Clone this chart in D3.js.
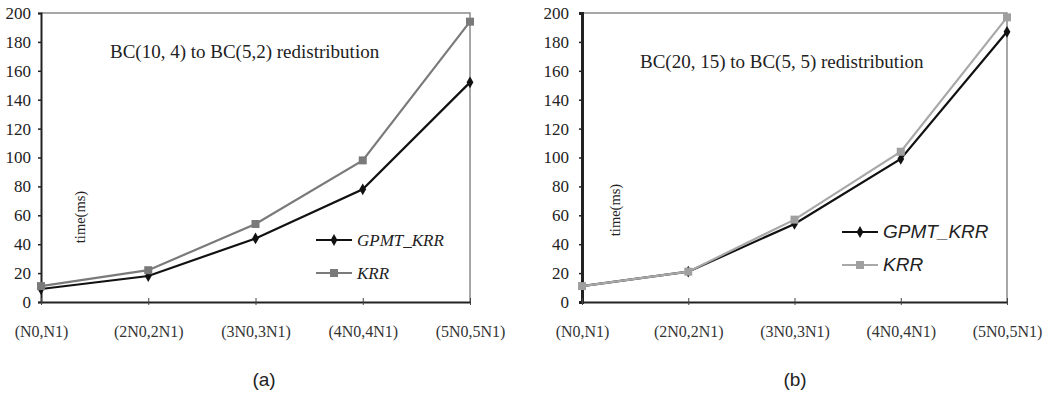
<!DOCTYPE html>
<html>
<head>
<meta charset="utf-8">
<script src="https://cdn.jsdelivr.net/npm/d3@7"></script>
<style>
  html, body { margin: 0; padding: 0; background: #fff; }
  svg { display: block; }
</style>
</head>
<body>
<svg id="chart" width="1045" height="394"></svg>
<script>
// ---- Data ----
const categories = ["(N0,N1)", "(2N0,2N1)", "(3N0,3N1)", "(4N0,4N1)", "(5N0,5N1)"];
const yTicks = [0, 20, 40, 60, 80, 100, 120, 140, 160, 180, 200];
const seriesNames = ["GPMT_KRR", "KRR"];

const titleA = "BC(10, 4) to BC(5,2) redistribution";
const gpmtA = [9, 18, 44, 78, 152];
const krrA  = [11, 22, 54, 98, 194];

const titleB = "BC(20, 15) to BC(5, 5) redistribution";
const gpmtB = [11, 21, 54, 99, 187];
const krrB  = [11, 21, 57, 104, 197];

const yLabel = "time(ms)";
const panelLabels = ["(a)", "(b)"];

// ---- Drawing ----
const svg = d3.select("#chart");

function drawPanel(cfg) {
  const g = svg.append("g");
  const x = d3.scalePoint().domain(categories).range([cfg.left, cfg.right]).padding(0);
  const y = d3.scaleLinear().domain([0, 200]).range([cfg.bottom, cfg.top]);

  // frame (top & right)
  g.append("path")
    .attr("d", `M${cfg.left},${cfg.top}H${cfg.right}V${cfg.bottom}`)
    .attr("fill", "none").attr("stroke", "#8a8a8a").attr("stroke-width", 1.5);

  // y axis
  const ya = g.append("g").attr("transform", `translate(${cfg.left},0)`)
    .call(d3.axisLeft(y).tickValues(yTicks).tickSize(3).tickPadding(cfg.yPad).tickFormat(d3.format("d")));
  ya.select(".domain").attr("stroke", "#222").attr("stroke-width", cfg.yAxisW);
  ya.selectAll(".tick line").attr("stroke", "#222").attr("stroke-width", 1.5);
  ya.selectAll("text").attr("font-family", "Liberation Serif, Times New Roman, serif")
    .attr("font-size", 17).attr("fill", "#222");

  // x axis
  const xa = g.append("g").attr("transform", `translate(0,${cfg.bottom})`)
    .call(d3.axisBottom(x).tickSize(0).tickPadding(24));
  xa.select(".domain").attr("stroke", "#222").attr("stroke-width", 2);
  xa.selectAll("text").attr("font-family", "Liberation Serif, Times New Roman, serif")
    .attr("font-size", 16).attr("fill", "#333");
  xa.selectAll(".tick").append("line")
    .attr("y1", -4).attr("y2", 3).attr("stroke", "#444").attr("stroke-width", 1);

  const line = d3.line().x((d, i) => x(categories[i])).y(d => y(d));

  const series = [
    { name: seriesNames[0], vals: cfg.gpmt, color: "#111", marker: "diamond" },
    { name: seriesNames[1], vals: cfg.krr, color: cfg.krrColor, marker: "square" }
  ];
  [0, 1].forEach(k => {
    const s = series[k];
    g.append("path").datum(s.vals).attr("d", line)
      .attr("fill", "none").attr("stroke", s.color).attr("stroke-width", 2.2);
    g.selectAll(null).data(s.vals).enter().append("path")
      .attr("transform", (d, i) => `translate(${x(categories[i])},${y(d)})`)
      .attr("d", s.marker === "square"
        ? d3.symbol().type(d3.symbolSquare).size(64)()
        : d3.symbol().type(d3.symbolDiamond).size(40)())
      .attr("fill", s.marker === "square" ? cfg.krrMarker : "#111");
  });

  // title
  g.append("text").attr("x", cfg.titleX).attr("y", cfg.titleY)
    .attr("font-family", "Liberation Serif, Times New Roman, serif")
    .attr("font-size", cfg.titleSize).attr("fill", "#222").text(cfg.title);

  // y label
  g.append("text")
    .attr("transform", `translate(${cfg.ylabX},${cfg.ylabY}) rotate(-90)`)
    .attr("text-anchor", "middle")
    .attr("font-family", "Liberation Serif, Times New Roman, serif")
    .attr("font-size", 14.5).attr("fill", "#222").text(yLabel);

  // legend
  series.forEach((s, i) => {
    const ly = cfg.legY + i * cfg.legGap;
    g.append("line").attr("x1", cfg.legX).attr("x2", cfg.legX + 36)
      .attr("y1", ly).attr("y2", ly).attr("stroke", s.color).attr("stroke-width", 2.2);
    g.append("path").attr("transform", `translate(${cfg.legX + 18},${ly})`)
      .attr("d", s.marker === "square"
        ? d3.symbol().type(d3.symbolSquare).size(64)()
        : d3.symbol().type(d3.symbolDiamond).size(40)())
      .attr("fill", s.marker === "square" ? cfg.krrMarker : "#111");
    g.append("text").attr("x", cfg.legX + 41).attr("y", ly + 6)
      .attr("font-family", cfg.legFont).attr("font-style", "italic")
      .attr("font-size", cfg.legSize).attr("fill", "#222").text(s.name);
  });

  // panel label
  g.append("text").attr("x", cfg.panelX).attr("y", 386)
    .attr("text-anchor", "middle")
    .attr("font-family", "Liberation Sans, Arial, sans-serif")
    .attr("font-size", 19).attr("fill", "#222").text(cfg.panel);
}

drawPanel({
  left: 41, right: 470, top: 13, bottom: 302, yPad: 7, yAxisW: 2,
  gpmt: gpmtA, krr: krrA, krrColor: "#7a7a7a", krrMarker: "#7a7a7a",
  title: titleA, titleX: 110, titleY: 58, titleSize: 19,
  ylabX: 85, ylabY: 217,
  legX: 316, legY: 240, legGap: 33, legFont: "Liberation Serif, Times New Roman, serif", legSize: 17,
  panel: panelLabels[0], panelX: 264
});

drawPanel({
  left: 582, right: 1007, top: 13, bottom: 302, yPad: 10, yAxisW: 3,
  gpmt: gpmtB, krr: krrB, krrColor: "#a8a8a8", krrMarker: "#a0a0a0",
  title: titleB, titleX: 640, titleY: 68, titleSize: 19,
  ylabX: 620, ylabY: 210,
  legX: 842, legY: 232, legGap: 33, legFont: "Liberation Sans, Arial, sans-serif", legSize: 19,
  panel: panelLabels[1], panelX: 795
});
</script>
</body>
</html>
